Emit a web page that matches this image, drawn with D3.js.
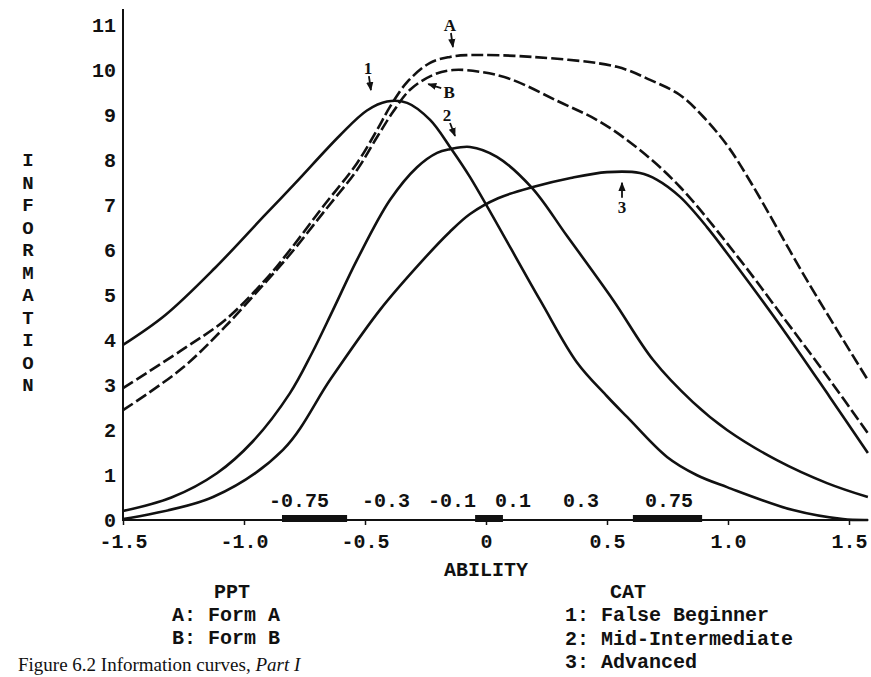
<!DOCTYPE html>
<html>
<head>
<meta charset="utf-8">
<script src="https://cdn.jsdelivr.net/npm/d3@7"></script>
<style>
  body { margin: 0; background: #fff; }
  svg { display: block; }
  text { fill: #111; }
</style>
</head>
<body>
<svg id="chart" width="871" height="677"></svg>
<script>
// ---------- data ----------
const abilityTicks = [-1.5, -1.0, -0.5, 0, 0.5, 1.0, 1.5];
const abilityTickLabels = ["-1.5", "-1.0", "-0.5", "0", "0.5", "1.0", "1.5"];
const infoTicks = [0, 1, 2, 3, 4, 5, 6, 7, 8, 9, 10, 11];

// CAT 1: False Beginner (solid)
const cat1Ability = [-1.5, -1.326, -1.12, -0.913, -0.789, -0.603, -0.492, -0.409, -0.326, -0.231, -0.149, -0.066, 0.223, 0.376, 0.5, 0.583, 0.748, 0.87, 0.996, 1.269, 1.475, 1.578];
const cat1Info    = [3.89, 4.55, 5.6, 6.78, 7.48, 8.55, 9.1, 9.3, 9.27, 8.89, 8.29, 7.62, 4.89, 3.5, 2.75, 2.29, 1.4, 1.0, 0.73, 0.22, 0.02, 0];

// CAT 2: Mid-Intermediate (solid)
const cat2Ability = [-1.5, -1.3, -1.112, -0.963, -0.81, -0.72, -0.632, -0.533, -0.397, -0.285, -0.202, -0.149, -0.066, 0.045, 0.19, 0.335, 0.525, 0.69, 0.855, 0.996, 1.202, 1.409, 1.578];
const cat2Info    = [0.2, 0.5, 1.04, 1.75, 2.82, 3.7, 4.67, 5.78, 7.11, 7.84, 8.16, 8.24, 8.29, 8.07, 7.38, 6.31, 4.89, 3.56, 2.62, 2.0, 1.33, 0.82, 0.51];

// CAT 3: Advanced (solid)
const cat3Ability = [-1.5, -1.128, -0.839, -0.64, -0.438, -0.26, -0.15, -0.066, 0.05, 0.194, 0.35, 0.5, 0.636, 0.707, 0.802, 0.913, 1.021, 1.215, 1.421, 1.578];
const cat3Info    = [0.02, 0.51, 1.56, 3.15, 4.67, 5.78, 6.4, 6.8, 7.15, 7.4, 7.6, 7.73, 7.71, 7.56, 7.18, 6.51, 5.75, 4.33, 2.73, 1.49];

// PPT Form A (dashed)
const pptAAbility = [-1.5, -1.256, -1.079, -0.913, -0.81, -0.674, -0.533, -0.45, -0.397, -0.326, -0.231, -0.149, -0.079, 0.194, 0.541, 0.678, 0.8, 0.9, 1.0, 1.1, 1.326, 1.578];
const pptAInfo    = [2.93, 3.78, 4.44, 5.33, 6.0, 6.96, 7.93, 8.67, 9.18, 9.73, 10.16, 10.29, 10.33, 10.29, 10.07, 9.78, 9.45, 8.95, 8.3, 7.45, 5.33, 3.11];

// PPT Form B (dashed)
const pptBAbility = [-1.5, -1.256, -1.079, -0.913, -0.81, -0.674, -0.533, -0.45, -0.384, -0.314, -0.219, -0.136, -0.025, 0.1, 0.3, 0.471, 0.636, 0.802, 1.05, 1.215, 1.421, 1.578];
const pptBInfo    = [2.44, 3.37, 4.29, 5.27, 5.9, 6.82, 7.78, 8.51, 9.07, 9.56, 9.89, 10.0, 9.96, 9.8, 9.3, 8.85, 8.22, 7.4, 5.78, 4.6, 3.11, 1.93];

// cut-score bands on the ability axis
const bandStart = [-0.843, -0.045, 0.607];
const bandEnd   = [-0.574, 0.07, 0.893];
const bandLabels = ["-0.75", "-0.3", "-0.1", "0.1", "0.3", "0.75"];
const bandLabelAbility = [-0.773, -0.413, -0.14, 0.112, 0.393, 0.756];

// curve annotations
const annoLabels  = ["A", "1", "B", "2", "3"];
const annoAbility = [-0.149, -0.488, -0.152, -0.161, 0.562];
const annoInfo    = [11.0, 10.04, 9.51, 9.0, 6.96];

const pptTitle = "PPT";
const pptLegend = ["A: Form A", "B: Form B"];
const catTitle = "CAT";
const catLegend = ["1: False Beginner", "2: Mid-Intermediate", "3: Advanced"];
const yTitle = "INFORMATION";
const xTitle = "ABILITY";
const caption = "Figure 6.2 Information curves, ";
const captionItalic = "Part I";

// ---------- drawing ----------
const svg = d3.select("#chart");
const mono = "'Liberation Mono', 'DejaVu Sans Mono', monospace";

const x = d3.scaleLinear().domain([-1.5, 1.5]).range([123, 849]);
const y = d3.scaleLinear().domain([0, 11]).range([520, 25]);
const xMax = 1.58;

// defs: arrow marker
const defs = svg.append("defs");
defs.append("marker").attr("id", "arr").attr("viewBox", "0 0 10 10")
  .attr("refX", 9).attr("refY", 5).attr("markerWidth", 5).attr("markerHeight", 5)
  .attr("orient", "auto")
  .append("path").attr("d", "M0,1 L10,5 L0,9 Z").attr("fill", "#111");

// y axis
const yAxis = d3.axisLeft(y).tickValues(infoTicks).tickSize(0).tickPadding(7)
  .tickFormat(d3.format("d"));
const gy = svg.append("g").attr("transform", "translate(123,0)").call(yAxis);
gy.select(".domain").remove();
gy.selectAll("text").attr("font-family", mono).attr("font-weight", "bold")
  .attr("font-size", 20).attr("fill", "#111");
svg.append("line").attr("x1", 123).attr("x2", 123).attr("y1", 9).attr("y2", y(0) + 1)
  .attr("stroke", "#111").attr("stroke-width", 2);

// x axis
const xAxis = d3.axisBottom(x).tickValues(abilityTicks).tickSize(5).tickPadding(9)
  .tickFormat((d, i) => abilityTickLabels[i]);
const gx = svg.append("g").attr("transform", `translate(0,${y(0)})`).call(xAxis);
gx.select(".domain").remove();
gx.selectAll("line").attr("stroke", "#111").attr("stroke-width", 1.5);
gx.selectAll("text").attr("font-family", mono).attr("font-weight", "bold")
  .attr("font-size", 20).attr("fill", "#111");
svg.append("line").attr("x1", x(-1.5)).attr("x2", x(xMax)).attr("y1", y(0)).attr("y2", y(0))
  .attr("stroke", "#111").attr("stroke-width", 2);

// bands
svg.selectAll("rect.band").data(bandStart).enter().append("rect")
  .attr("class", "band")
  .attr("x", d => x(d)).attr("width", (d, i) => x(bandEnd[i]) - x(d))
  .attr("y", y(0) - 5).attr("height", 7).attr("fill", "#111");
svg.selectAll("text.bandlab").data(bandLabels).enter().append("text")
  .attr("class", "bandlab")
  .attr("x", (d, i) => x(bandLabelAbility[i])).attr("y", 507)
  .attr("text-anchor", "middle").attr("font-family", mono).attr("font-weight", "bold")
  .attr("font-size", 20).text(d => d);

// curves
const series = [
  { xs: cat1Ability, ys: cat1Info, dash: null },
  { xs: cat2Ability, ys: cat2Info, dash: null },
  { xs: cat3Ability, ys: cat3Info, dash: null },
  { xs: pptAAbility, ys: pptAInfo, dash: "12,4" },
  { xs: pptBAbility, ys: pptBInfo, dash: "12,4" }
];
const line = d3.line().x(d => x(d[0])).y(d => y(d[1])).curve(d3.curveCatmullRom.alpha(0.5));
svg.selectAll("path.curve").data(series).enter().append("path")
  .attr("class", "curve")
  .attr("d", s => line(s.xs.map((v, i) => [v, s.ys[i]])))
  .attr("fill", "none").attr("stroke", "#111").attr("stroke-width", 2.6)
  .attr("stroke-dasharray", s => s.dash);

// annotations
const annoFont = "'Liberation Serif', 'DejaVu Serif', serif";
annoLabels.forEach((lab, i) => {
  const cx = x(annoAbility[i]), cy = y(annoInfo[i]);
  svg.append("text").attr("x", cx).attr("y", cy + 6).attr("text-anchor", "middle")
    .attr("font-family", annoFont).attr("font-size", 17).attr("font-weight", "bold").text(lab);
  let x1, y1, x2, y2;
  if (lab === "B") { x1 = cx - 8; y1 = cy - 4; x2 = cx - 21; y2 = cy - 8; }
  else if (lab === "3") { x1 = cx; y1 = cy - 9; x2 = cx; y2 = cy - 24; }
  else if (lab === "2") { x1 = cx + 3; y1 = cy + 8; x2 = cx + 8; y2 = cy + 21; }
  else { x1 = cx + 1; y1 = cy + 8; x2 = cx + 3; y2 = cy + 22; }
  svg.append("line").attr("x1", x1).attr("y1", y1).attr("x2", x2).attr("y2", y2)
    .attr("stroke", "#111").attr("stroke-width", 1.8).attr("marker-end", "url(#arr)");
});

// y title (stacked letters)
yTitle.split("").forEach((ch, i) => {
  svg.append("text").attr("x", 28).attr("y", 166 + i * 22.5).attr("text-anchor", "middle")
    .attr("font-family", mono).attr("font-weight", "bold").attr("font-size", 19).text(ch);
});

// x title
svg.append("text").attr("x", x(0)).attr("y", 576).attr("text-anchor", "middle")
  .attr("font-family", mono).attr("font-weight", "bold").attr("font-size", 20).text(xTitle);

// legends
svg.append("text").attr("x", 232).attr("y", 598).attr("text-anchor", "middle")
  .attr("font-family", mono).attr("font-weight", "bold").attr("font-size", 20).text(pptTitle);
pptLegend.forEach((t, i) => {
  svg.append("text").attr("x", 172).attr("y", 621 + i * 22.5)
    .attr("font-family", mono).attr("font-weight", "bold").attr("font-size", 20).text(t);
});
svg.append("text").attr("x", 628).attr("y", 598).attr("text-anchor", "middle")
  .attr("font-family", mono).attr("font-weight", "bold").attr("font-size", 20).text(catTitle);
catLegend.forEach((t, i) => {
  svg.append("text").attr("x", 565).attr("y", 621 + i * 23.5)
    .attr("font-family", mono).attr("font-weight", "bold").attr("font-size", 20).text(t);
});

// caption (at the bottom edge, as in the scan)
const cap = svg.append("text").attr("x", 18).attr("y", 671)
  .attr("font-family", annoFont).attr("font-size", 19);
cap.append("tspan").text(caption);
cap.append("tspan").attr("font-style", "italic").text(captionItalic);
</script>
</body>
</html>
